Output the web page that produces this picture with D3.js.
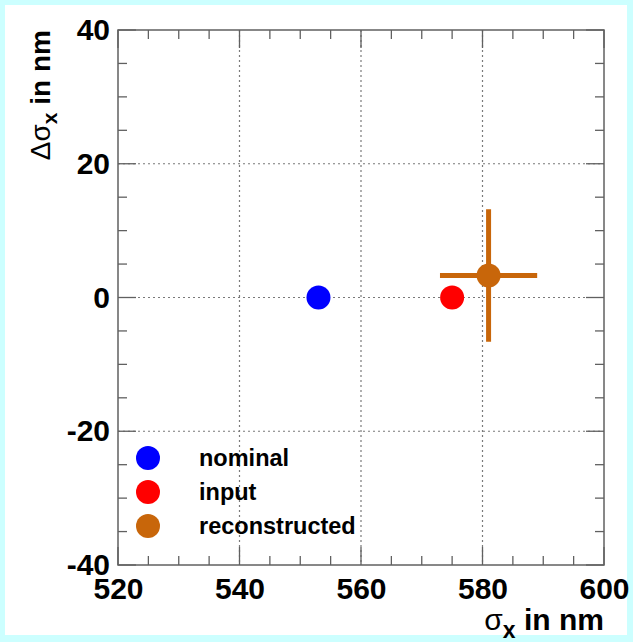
<!DOCTYPE html>
<html>
<head>
<meta charset="utf-8">
<script src="https://cdn.jsdelivr.net/npm/d3@7"></script>
<style>
  html, body { margin: 0; padding: 0; background: #ccffff; }
  svg { display: block; }
  text { font-family: "Liberation Sans", Arial, Helvetica, sans-serif; font-weight: bold; fill: #000; }
</style>
</head>
<body>
<svg id="chart" width="633" height="642"></svg>
<script>
// Axis ranges and tick labels
const xDomain = [520, 600];
const yDomain = [-40, 40];
const xTickValues = [520, 540, 560, 580, 600];
const yTickValues = [-40, -20, 0, 20, 40];

// Measured beam sizes
const seriesNames = ["nominal", "input", "reconstructed"];
const sigmaX = [553, 575, 581];
const deltaSigmaX = [0, 0, 3.3];
const errSigmaX = [0, 0, 8];
const errDeltaSigmaX = [0, 0, 9.9];
const seriesColors = ["#0000ff", "#ff0000", "#c8660a"];

const svg = d3.select("#chart");
const plot = { left: 118, right: 604, top: 30, bottom: 565 };

// White canvas inside the cyan frame
svg.append("rect").attr("x", 5).attr("y", 5).attr("width", 622).attr("height", 630).attr("fill", "#ffffff");

const x = d3.scaleLinear().domain(xDomain).range([plot.left, plot.right]);
const y = d3.scaleLinear().domain(yDomain).range([plot.bottom, plot.top]);

const axisColor = "#606060";
const gridColor = "#7a7a7a";

// Dotted grid at the inner major ticks
const grid = svg.append("g");
grid.selectAll("line.gx").data(xTickValues.slice(1, -1)).join("line")
  .attr("x1", d => x(d)).attr("x2", d => x(d))
  .attr("y1", plot.top).attr("y2", plot.bottom)
  .attr("stroke", gridColor).attr("stroke-width", 1.2).attr("stroke-dasharray", "2,3");
grid.selectAll("line.gy").data(yTickValues.slice(1, -1)).join("line")
  .attr("x1", plot.left).attr("x2", plot.right)
  .attr("y1", d => y(d)).attr("y2", d => y(d))
  .attr("stroke", gridColor).attr("stroke-width", 1.2).attr("stroke-dasharray", "2,3");

// Tick marks on all four sides, pointing inward
const majorLen = 18, minorLen = 9;
const xMinor = d3.range(xDomain[0], xDomain[1] + 0.001, 5);
const yMinor = d3.range(yDomain[0], yDomain[1] + 0.001, 5);
const ticks = svg.append("g").attr("stroke", axisColor).attr("stroke-width", 1.3);
xMinor.forEach(v => {
  const len = (v % 20 === 0) ? majorLen : minorLen;
  ticks.append("line").attr("x1", x(v)).attr("x2", x(v)).attr("y1", plot.bottom).attr("y2", plot.bottom - len);
  ticks.append("line").attr("x1", x(v)).attr("x2", x(v)).attr("y1", plot.top).attr("y2", plot.top + len);
});
yMinor.forEach(v => {
  const len = (v % 20 === 0) ? majorLen : minorLen;
  ticks.append("line").attr("y1", y(v)).attr("y2", y(v)).attr("x1", plot.left).attr("x2", plot.left + len);
  ticks.append("line").attr("y1", y(v)).attr("y2", y(v)).attr("x1", plot.right).attr("x2", plot.right - len);
});

// Frame
svg.append("rect")
  .attr("x", plot.left).attr("y", plot.top)
  .attr("width", plot.right - plot.left).attr("height", plot.bottom - plot.top)
  .attr("fill", "none").attr("stroke", axisColor).attr("stroke-width", 1.5);

// Tick labels via d3 axes (tick lines hidden, labels kept); plain hyphen for negatives
const labelSize = 30;
const plainInt = d => String(d);
const xAxis = svg.append("g").attr("transform", `translate(0,${plot.bottom})`)
  .call(d3.axisBottom(x).tickValues(xTickValues).tickFormat(plainInt).tickSize(0).tickPadding(13));
xAxis.select(".domain").remove();
xAxis.selectAll("text").attr("font-size", labelSize).attr("font-family", null).attr("dy", "0.71em");

const yAxis = svg.append("g").attr("transform", `translate(${plot.left},0)`)
  .call(d3.axisLeft(y).tickValues(yTickValues).tickFormat(plainInt).tickSize(0).tickPadding(8));
yAxis.select(".domain").remove();
yAxis.selectAll("text").attr("font-size", labelSize).attr("font-family", null);

// Axis titles
const xTitle = svg.append("text")
  .attr("x", plot.right).attr("y", 630)
  .attr("text-anchor", "end").attr("font-size", labelSize);
xTitle.append("tspan").attr("font-weight", "normal").text("σ");
xTitle.append("tspan").attr("font-size", 23).attr("dy", 8).text("x");
xTitle.append("tspan").attr("dy", -8).text(" in nm");

const yTitle = svg.append("text")
  .attr("transform", `translate(50,${plot.top}) rotate(-90)`)
  .attr("text-anchor", "end").attr("font-size", 28);
yTitle.append("tspan").attr("font-weight", "normal").text("Δσ");
yTitle.append("tspan").attr("font-size", 21).attr("dy", 7).text("x");
yTitle.append("tspan").attr("dy", -7).text(" in nm");

// Error bars
const points = seriesNames.map((name, i) => ({
  name, sx: sigmaX[i], dsx: deltaSigmaX[i], ex: errSigmaX[i], ey: errDeltaSigmaX[i], color: seriesColors[i]
}));
const errG = svg.append("g");
points.filter(p => p.ex > 0 || p.ey > 0).forEach(p => {
  errG.append("line")
    .attr("x1", x(p.sx - p.ex)).attr("x2", x(p.sx + p.ex))
    .attr("y1", y(p.dsx)).attr("y2", y(p.dsx))
    .attr("stroke", p.color).attr("stroke-width", 5);
  errG.append("line")
    .attr("x1", x(p.sx)).attr("x2", x(p.sx))
    .attr("y1", y(p.dsx - p.ey)).attr("y2", y(p.dsx + p.ey))
    .attr("stroke", p.color).attr("stroke-width", 5);
});

// Markers
svg.append("g").selectAll("circle").data(points).join("circle")
  .attr("cx", d => x(d.sx)).attr("cy", d => y(d.dsx)).attr("r", 12)
  .attr("fill", d => d.color);

// Legend
const legend = svg.append("g");
const legendY = [458, 492, 526];
points.forEach((p, i) => {
  legend.append("circle").attr("cx", 148).attr("cy", legendY[i]).attr("r", 12).attr("fill", p.color);
  legend.append("text").attr("x", 199).attr("y", legendY[i] + 8).attr("font-size", 23.5).text(p.name);
});
</script>
</body>
</html>
